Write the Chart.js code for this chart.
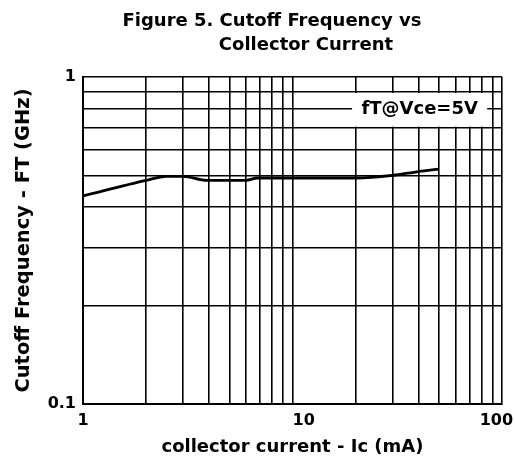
<!DOCTYPE html>
<html>
<head>
<meta charset="utf-8">
<script src="https://cdn.jsdelivr.net/npm/chart.js@4"></script>
<style>
  html, body { margin: 0; padding: 0; background: #fff; }
  #wrap { width: 515px; height: 463px; }
</style>
</head>
<body>
<div id="wrap"><canvas id="c" width="515" height="463"></canvas></div>
<script>
// ---- data ----
const currentMA = [1, 2, 2.5, 3, 3.9, 6, 6.8, 10, 20, 30, 40, 50];
const cutoffGHz = [0.433, 0.483, 0.497, 0.497, 0.483, 0.483, 0.491, 0.491, 0.491, 0.50, 0.514, 0.523];
const xTickValues = [1, 2, 3, 4, 5, 6, 7, 8, 9, 10, 20, 30, 40, 50, 60, 70, 80, 90, 100];
const yTickValues = [0.1, 0.2, 0.3, 0.4, 0.5, 0.6, 0.7, 0.8, 0.9, 1];
const xTickLabels = { 1: '1', 10: '    10', 100: '100  ' };
const yTickLabels = { 0.1: '0.1', 1: '1' };
const titleLines = ['Figure 5. Cutoff Frequency vs', 'Collector Current'];
const xTitle = 'collector current - Ic (mA)';
const yTitle = 'Cutoff Frequency - FT (GHz)';
const seriesLabel = 'fT@Vce=5V';

const FONT = '"DejaVu Sans", "Liberation Sans", Arial, sans-serif';

const titlePlugin = {
  id: 'twoLineTitle',
  afterDraw(chart) {
    const ctx = chart.ctx;
    ctx.save();
    ctx.fillStyle = '#000';
    ctx.font = 'bold 18px ' + FONT;
    ctx.textAlign = 'center';
    ctx.textBaseline = 'alphabetic';
    ctx.fillText(titleLines[0], 272, 26);
    ctx.fillText(titleLines[1], 306, 50);
    ctx.restore();
  }
};

const labelBoxPlugin = {
  id: 'labelBox',
  beforeDatasetsDraw(chart) {
    const ctx = chart.ctx;
    const xs = chart.scales.x, ys = chart.scales.y;
    const x0 = xs.getPixelForValue(19.25), x1 = xs.getPixelForValue(85);
    const y0 = ys.getPixelForValue(0.9) + 1, y1 = ys.getPixelForValue(0.7) - 1;
    ctx.save();
    ctx.fillStyle = '#fff';
    ctx.fillRect(x0, y0, x1 - x0, y1 - y0);
    ctx.fillStyle = '#000';
    ctx.font = 'bold 18px ' + FONT;
    ctx.textAlign = 'center';
    ctx.textBaseline = 'middle';
    ctx.fillText(seriesLabel, (x0 + x1) / 2, ys.getPixelForValue(0.8) + 1);
    ctx.restore();
  }
};

new Chart(document.getElementById('c'), {
  type: 'line',
  data: {
    datasets: [{
      label: seriesLabel,
      data: currentMA.map((x, i) => ({ x: x, y: cutoffGHz[i] })),
      borderColor: '#000',
      borderWidth: 2.8,
      pointRadius: 0,
      tension: 0.4,
      cubicInterpolationMode: 'monotone',
      fill: false
    }]
  },
  options: {
    responsive: false,
    animation: false,
    devicePixelRatio: 1,
    layout: { padding: { top: 77, right: 13, bottom: 0, left: 0 } },
    plugins: { legend: { display: false }, title: { display: false }, tooltip: { enabled: false } },
    scales: {
      x: {
        type: 'logarithmic',
        min: 1, max: 100,
        afterBuildTicks(s) { s.ticks = xTickValues.map(v => ({ value: v })); },
        afterFit(s) { s.height = 59; s.paddingLeft = 0; s.paddingRight = 0; },
        grid: { color: '#000', lineWidth: 1.6, drawTicks: false },
        border: { display: true, color: '#000', width: 2 },
        ticks: {
          autoSkip: false, maxRotation: 0, minRotation: 0, padding: 7, color: '#000',
          font: { family: FONT, size: 16, weight: 'bold' },
          callback: (v) => xTickLabels[v] !== undefined ? xTickLabels[v] : ''
        },
        title: { display: true, text: xTitle, color: '#000', padding: { top: 0, bottom: 5 },
                 font: { family: FONT, size: 18, weight: 'bold' } }
      },
      y: {
        type: 'logarithmic',
        min: 0.1, max: 1,
        afterBuildTicks(s) { s.ticks = yTickValues.map(v => ({ value: v })); },
        afterFit(s) { s.width = 83; s.paddingTop = 0; s.paddingBottom = 0; },
        grid: { color: '#000', lineWidth: 1.6, drawTicks: false },
        border: { display: true, color: '#000', width: 2 },
        ticks: {
          autoSkip: false, padding: 7, color: '#000',
          font: { family: FONT, size: 16, weight: 'bold' },
          callback: (v) => yTickLabels[v] !== undefined ? yTickLabels[v] : ''
        },
        title: { display: true, text: yTitle, color: '#000', padding: { top: 12, bottom: 0 },
                 font: { family: FONT, size: 19.5, weight: 'bold' } }
      }
    }
  },
  plugins: [titlePlugin, labelBoxPlugin]
});
</script>
</body>
</html>
